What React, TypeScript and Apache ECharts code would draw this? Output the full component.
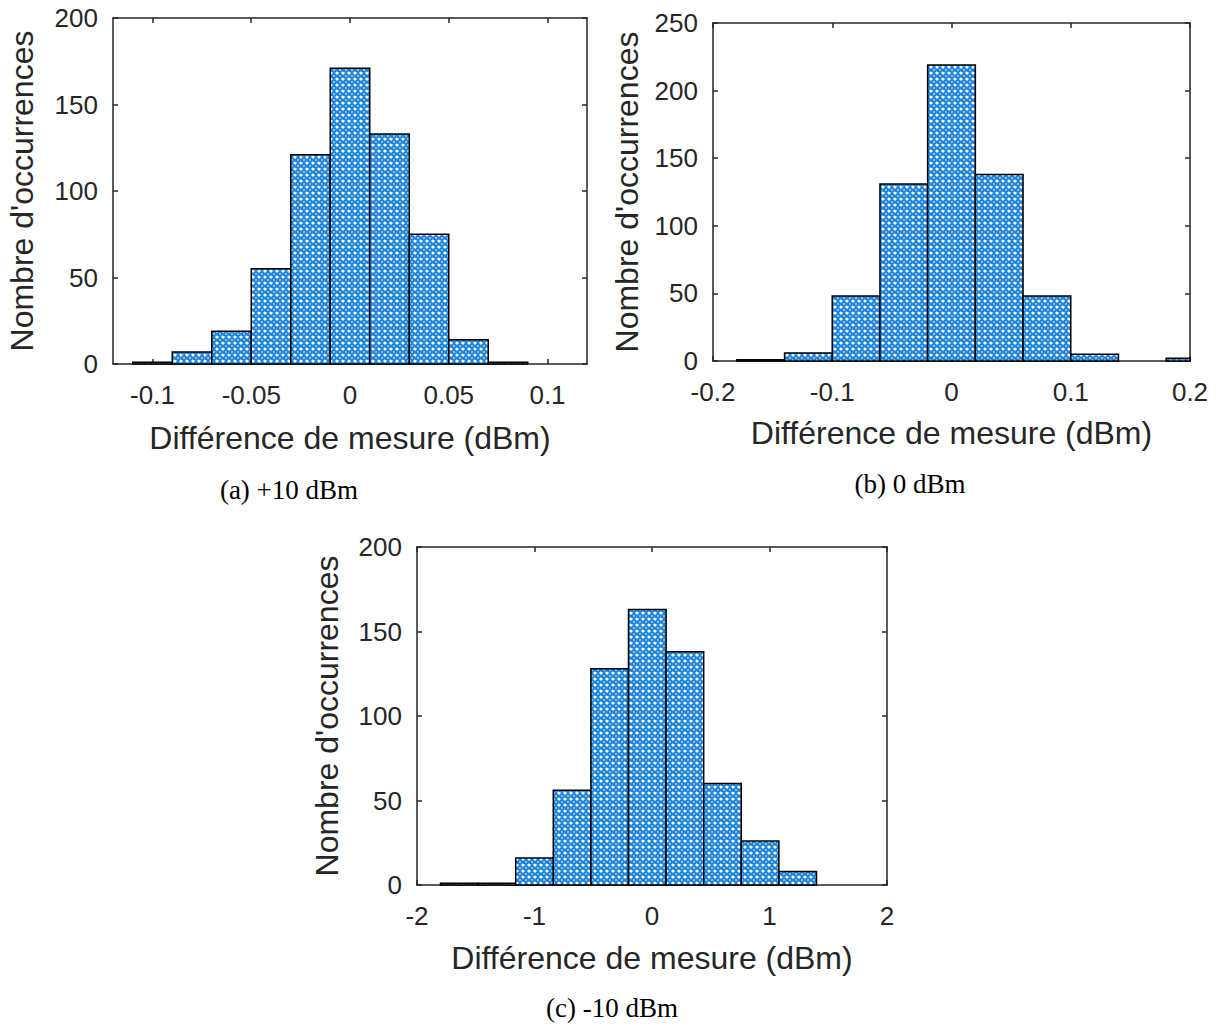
import React, { useEffect, useRef } from "react";
import * as echarts from "echarts";

// ---- Data ----
// (a) +10 dBm
const A_CENTERS = [-0.1, -0.08, -0.06, -0.04, -0.02, 0, 0.02, 0.04, 0.06, 0.08];
const A_COUNTS = [1, 7, 19, 55, 121, 171, 133, 75, 14, 1];
const A_BIN = 0.02;
const A_XTICKS = [-0.1, -0.05, 0, 0.05, 0.1];
const A_XRANGE = [-0.12, 0.12];
const A_YMAX = 200;

// (b) 0 dBm
const B_CENTERS = [-0.16, -0.12, -0.08, -0.04, 0, 0.04, 0.08, 0.12, 0.16, 0.2];
const B_COUNTS = [1, 6, 48, 131, 219, 138, 48, 5, 0, 2];
const B_BIN = 0.04;
const B_XTICKS = [-0.2, -0.1, 0, 0.1, 0.2];
const B_XRANGE = [-0.2, 0.2];
const B_YMAX = 250;

// (c) -10 dBm
const C_CENTERS = [-1.64, -1.32, -1.0, -0.68, -0.36, -0.04, 0.28, 0.6, 0.92, 1.24];
const C_COUNTS = [1, 1, 16, 56, 128, 163, 138, 60, 26, 8];
const C_BIN = 0.32;
const C_XTICKS = [-2, -1, 0, 1, 2];
const C_XRANGE = [-2, 2];
const C_YMAX = 200;

const Y_STEP = 50;

const X_TITLE = "Différence de mesure (dBm)";
const Y_TITLE = "Nombre d'occurrences";
const CAPTIONS = ["(a) +10 dBm", "(b) 0 dBm", "(c) -10 dBm"];

const AXIS_COLOR = "#262626";
const SANS = "Liberation Sans, Arial, sans-serif";
const SERIF = "Liberation Serif, Times New Roman, serif";

const MOTIF = ["WWLBBL", "WWLBBL", "LLBBBB", "BBBLLB", "BBBLLB", "LBBBBB"];
const TILE = 36;

function makePatternURL(): string {
  const colors: Record<string, string> = {
    W: "#ffffff",
    L: "#84c0f0",
    B: "#2182d6",
  };
  const n = MOTIF.length;
  const c = document.createElement("canvas");
  c.width = TILE;
  c.height = TILE;
  const ctx = c.getContext("2d")!;
  for (let y = 0; y < TILE; y++) {
    for (let x = 0; x < TILE; x++) {
      ctx.fillStyle = colors[MOTIF[y % n][x % n]];
      ctx.fillRect(x, y, 1, 1);
    }
  }
  return c.toDataURL();
}

export default function App() {
  const ref = useRef<HTMLDivElement>(null);

  useEffect(() => {
    if (!ref.current) return;
    const chart = echarts.init(ref.current, undefined, { renderer: "svg" });
    const pattern = {
      image: makePatternURL(),
      repeat: "repeat",
      imageWidth: TILE,
      imageHeight: TILE,
    };

    const panels = [
      { centers: A_CENTERS, counts: A_COUNTS, bin: A_BIN, xticks: A_XTICKS, xr: A_XRANGE, ymax: A_YMAX,
        grid: { left: 113, top: 18, width: 474, height: 346 }, xGap: 58, yGap: 75 },
      { centers: B_CENTERS, counts: B_COUNTS, bin: B_BIN, xticks: B_XTICKS, xr: B_XRANGE, ymax: B_YMAX,
        grid: { left: 713, top: 23, width: 477, height: 338 }, xGap: 56, yGap: 70 },
      { centers: C_CENTERS, counts: C_COUNTS, bin: C_BIN, xticks: C_XTICKS, xr: C_XRANGE, ymax: C_YMAX,
        grid: { left: 417, top: 547, width: 470, height: 338 }, xGap: 57, yGap: 74 },
    ];

    const lineStyle = { color: AXIS_COLOR, width: 1.5 };
    const grid: any[] = [];
    const xAxis: any[] = [];
    const yAxis: any[] = [];
    const series: any[] = [];

    panels.forEach((p, i) => {
      grid.push({ ...p.grid, containLabel: false });
      const xBase = {
        type: "value",
        gridIndex: i,
        min: p.xr[0],
        max: p.xr[1],
        splitLine: { show: false },
        axisLine: { show: true, onZero: false, lineStyle },
        axisTick: { show: true, inside: true, length: 5, lineStyle, customValues: p.xticks },
      };
      xAxis.push({
        ...xBase,
        position: "bottom",
        axisLabel: { show: true, customValues: p.xticks, fontFamily: SANS, fontSize: 26, color: AXIS_COLOR, margin: 18 },
        name: X_TITLE,
        nameLocation: "middle",
        nameGap: p.xGap,
        nameTextStyle: { fontFamily: SANS, fontSize: 32, color: AXIS_COLOR },
      });
      xAxis.push({ ...xBase, position: "top", axisLabel: { show: false } });
      const yBase = {
        type: "value",
        gridIndex: i,
        min: 0,
        max: p.ymax,
        interval: Y_STEP,
        splitLine: { show: false },
        axisLine: { show: true, onZero: false, lineStyle },
        axisTick: { show: true, inside: true, length: 5, lineStyle },
      };
      yAxis.push({
        ...yBase,
        position: "left",
        axisLabel: { show: true, fontFamily: SANS, fontSize: 26, color: AXIS_COLOR, margin: 15 },
        name: Y_TITLE,
        nameLocation: "middle",
        nameRotate: 90,
        nameGap: p.yGap,
        nameTextStyle: { fontFamily: SANS, fontSize: 32, color: AXIS_COLOR },
      });
      yAxis.push({ ...yBase, position: "right", axisLabel: { show: false } });

      const bin = p.bin;
      series.push({
        type: "custom",
        xAxisIndex: 2 * i,
        yAxisIndex: 2 * i,
        data: p.centers.map((c, k) => [c, p.counts[k]]),
        renderItem: (params: any, api: any) => {
          const c = api.value(0);
          const h = api.value(1);
          if (!(h > 0)) return null;
          const p0 = api.coord([c - bin / 2, h]);
          const p1 = api.coord([c + bin / 2, 0]);
          const cs = params.coordSys;
          const shape = echarts.graphic.clipRectByRect(
            { x: p0[0], y: p0[1], width: p1[0] - p0[0], height: p1[1] - p0[1] },
            { x: cs.x, y: cs.y - 2, width: cs.width, height: cs.height + 2 }
          );
          if (!shape) return null;
          return {
            type: "rect",
            shape,
            style: { fill: pattern, stroke: "#000000", lineWidth: 1.5 },
          };
        },
      });
    });

    const captionPos = [
      [289, 490],
      [910, 484],
      [612, 1008],
    ];
    const graphic = CAPTIONS.map((t, i) => ({
      type: "text",
      x: captionPos[i][0],
      y: captionPos[i][1],
      style: {
        text: t,
        fontFamily: SERIF,
        fontSize: 27,
        fill: "#000000",
        align: "center",
        verticalAlign: "middle",
      },
    }));

    chart.setOption({
      animation: false,
      backgroundColor: "#ffffff",
      grid,
      xAxis,
      yAxis,
      series,
      graphic,
    });
    return () => chart.dispose();
  }, []);

  return (
    <div
      ref={ref}
      style={{ position: "absolute", left: 0, top: 0, width: 1220, height: 1028 }}
    />
  );
}
